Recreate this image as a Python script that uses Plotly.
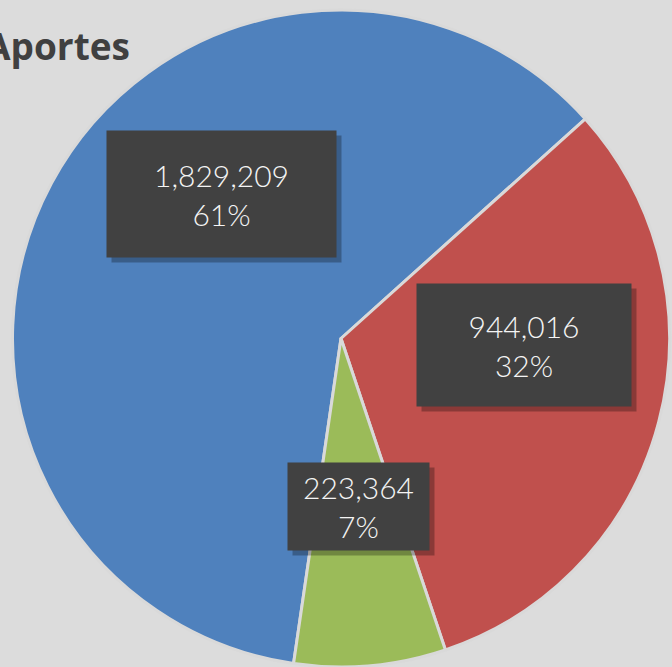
import plotly.graph_objects as go

# data
categories = ["A", "B", "C"]
values = [1829209, 944016, 223364]
colors = ["#4F81BD", "#C0504D", "#9BBB59"]

# label box centres in pixels (x, y from top) and sizes
box_pos = [(221, 194), (524, 345), (358, 507)]
box_size = [(229, 126), (214, 122), (141, 87)]

W, H = 672, 667
total = sum(values)

fig = go.Figure(go.Pie(
    labels=categories,
    values=values,
    marker=dict(colors=colors, line=dict(color="#d9d9d9", width=3)),
    sort=False,
    direction="clockwise",
    rotation=188.3,
    textinfo="none",
    showlegend=False,
    domain=dict(x=[12 / W, 670 / W], y=[0, 1 - 10 / H]),
))

annotations = []
for v, (px_, py_), (bw, bh) in zip(values, box_pos, box_size):
    txt = f"{v:,}<br>{round(100 * v / total)}%"
    # shadow
    annotations.append(dict(
        x=px_ / W, y=1 - py_ / H, xref="paper", yref="paper",
        xanchor="center", yanchor="middle",
        text=" ", showarrow=False, width=bw, height=bh,
        bgcolor="rgba(0,0,0,0.28)", borderpad=0, xshift=5, yshift=-5,
    ))
    annotations.append(dict(
        x=px_ / W, y=1 - py_ / H, xref="paper", yref="paper",
        xanchor="center", yanchor="middle",
        text=txt, showarrow=False, width=bw, height=bh,
        align="center", valign="middle",
        bgcolor="#414141", borderpad=0,
        font=dict(family="Lato", size=30, color="#f4f4f4", weight=300),
    ))

annotations.append(dict(
    x=132 / W, y=1 - 45 / H, xref="paper", yref="paper",
    xanchor="right", yanchor="middle",
    text="<b>Aportes</b>", showarrow=False,
    font=dict(family="Open Sans", size=37, color="#404040"),
))

fig.update_layout(
    width=W,
    height=H,
    margin=dict(l=0, r=0, t=0, b=0),
    paper_bgcolor="#dcdcdc",
    plot_bgcolor="#dcdcdc",
    annotations=annotations,
)

fig.write_html(
    "out.html",
    config=dict(displayModeBar=False),
    post_script="document.body.style.margin='0';",
)
